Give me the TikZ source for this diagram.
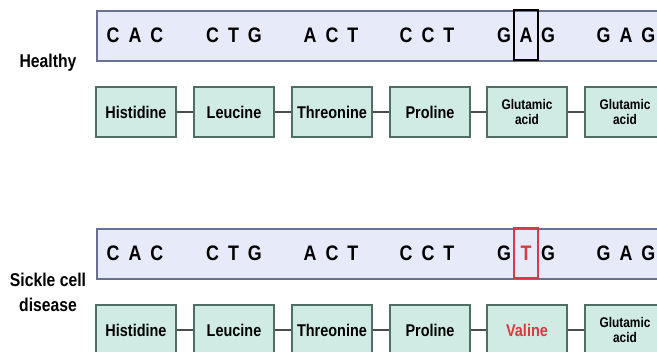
\documentclass[tikz,border=0pt]{standalone}
\usepackage{fontspec}
\setmainfont{Liberation Sans}[FakeStretch=0.85]
\definecolor{barfill}{HTML}{E7EAF8}
\definecolor{barline}{HTML}{6A7092}
\definecolor{boxfill}{HTML}{D0EBE3}
\definecolor{boxline}{HTML}{4F6F66}
\definecolor{mutred}{HTML}{D93A40}
\tikzset{
  dnabar/.style={draw=barline, fill=barfill, line width=2pt, minimum width=580pt, minimum height=50pt, anchor=north west, inner sep=0pt},
  aabox/.style={draw=boxline, fill=boxfill, line width=1.8pt, minimum width=80pt, minimum height=50pt, inner sep=0pt, font=\fontsize{17}{18}\selectfont\bfseries, align=center},
  smallaa/.style={font=\fontsize{14}{15}\selectfont\bfseries},
  base/.style={font=\fontsize{21}{21}\selectfont\bfseries, inner sep=0pt},
  hilite/.style={draw, line width=2pt, minimum width=24pt, minimum height=50pt, inner sep=0pt, font=\fontsize{21}{21}\selectfont\bfseries},
  link/.style={draw=black!70, line width=2pt},
  rowlabel/.style={font=\fontsize{18.5}{25}\selectfont\bfseries, align=center}
}
\newcommand{\cdn}[3]{#1\hspace{9pt}#2\hspace{9pt}#3}
\begin{document}
\begin{tikzpicture}[x=1pt,y=-1pt]
\useasboundingbox (0,0) rectangle (657,352);
\clip (0,0) rectangle (657,352);
\fill[white] (0,0) rectangle (657,352);
% ---------- Healthy ----------
\node[rowlabel] (lh) at (48,63) {Healthy};
\node[dnabar] (dna1) at (96,10) {};
\node[base] (h1) at (135,35) {\cdn CAC};
\node[base] (h2) at (234,35) {\cdn CTG};
\node[base] (h3) at (331,35) {\cdn ACT};
\node[base] (h4) at (427,35) {\cdn CCT};
\node[base] (h5a) at (504,35) {G};
\node[hilite, draw=black] (h5b) at (526,35) {A};
\node[base] (h5c) at (548,35) {G};
\node[base] (h6) at (626,35) {\cdn GAG};
\node[aabox] (p1) at (136,112) {Histidine};
\node[aabox] (p2) at (234,112) {Leucine};
\node[aabox] (p3) at (332,112) {Threonine};
\node[aabox] (p4) at (430,112) {Proline};
\node[aabox, smallaa] (p5) at (527,112) {Glutamic\\acid};
\node[aabox, smallaa] (p6) at (625,112) {Glutamic\\acid};
\foreach \a/\b in {p1/p2,p2/p3,p3/p4,p4/p5,p5/p6}
  \draw[link] (\a.east) -- (\b.west);
% ---------- Sickle cell ----------
\node[rowlabel] (ls) at (48,292) {Sickle cell\\disease};
\node[dnabar] (dna2) at (96,228) {};
\node[base] (s1) at (135,253) {\cdn CAC};
\node[base] (s2) at (234,253) {\cdn CTG};
\node[base] (s3) at (331,253) {\cdn ACT};
\node[base] (s4) at (427,253) {\cdn CCT};
\node[base] (s5a) at (504,253) {G};
\node[hilite, draw=mutred, text=mutred] (s5b) at (526,253) {T};
\node[base] (s5c) at (548,253) {G};
\node[base] (s6) at (626,253) {\cdn GAG};
\node[aabox] (q1) at (136,330) {Histidine};
\node[aabox] (q2) at (234,330) {Leucine};
\node[aabox] (q3) at (332,330) {Threonine};
\node[aabox] (q4) at (430,330) {Proline};
\node[aabox, text=mutred] (q5) at (527,330) {Valine};
\node[aabox, smallaa] (q6) at (625,330) {Glutamic\\acid};
\foreach \a/\b in {q1/q2,q2/q3,q3/q4,q4/q5,q5/q6}
  \draw[link] (\a.east) -- (\b.west);
\end{tikzpicture}
\end{document}
